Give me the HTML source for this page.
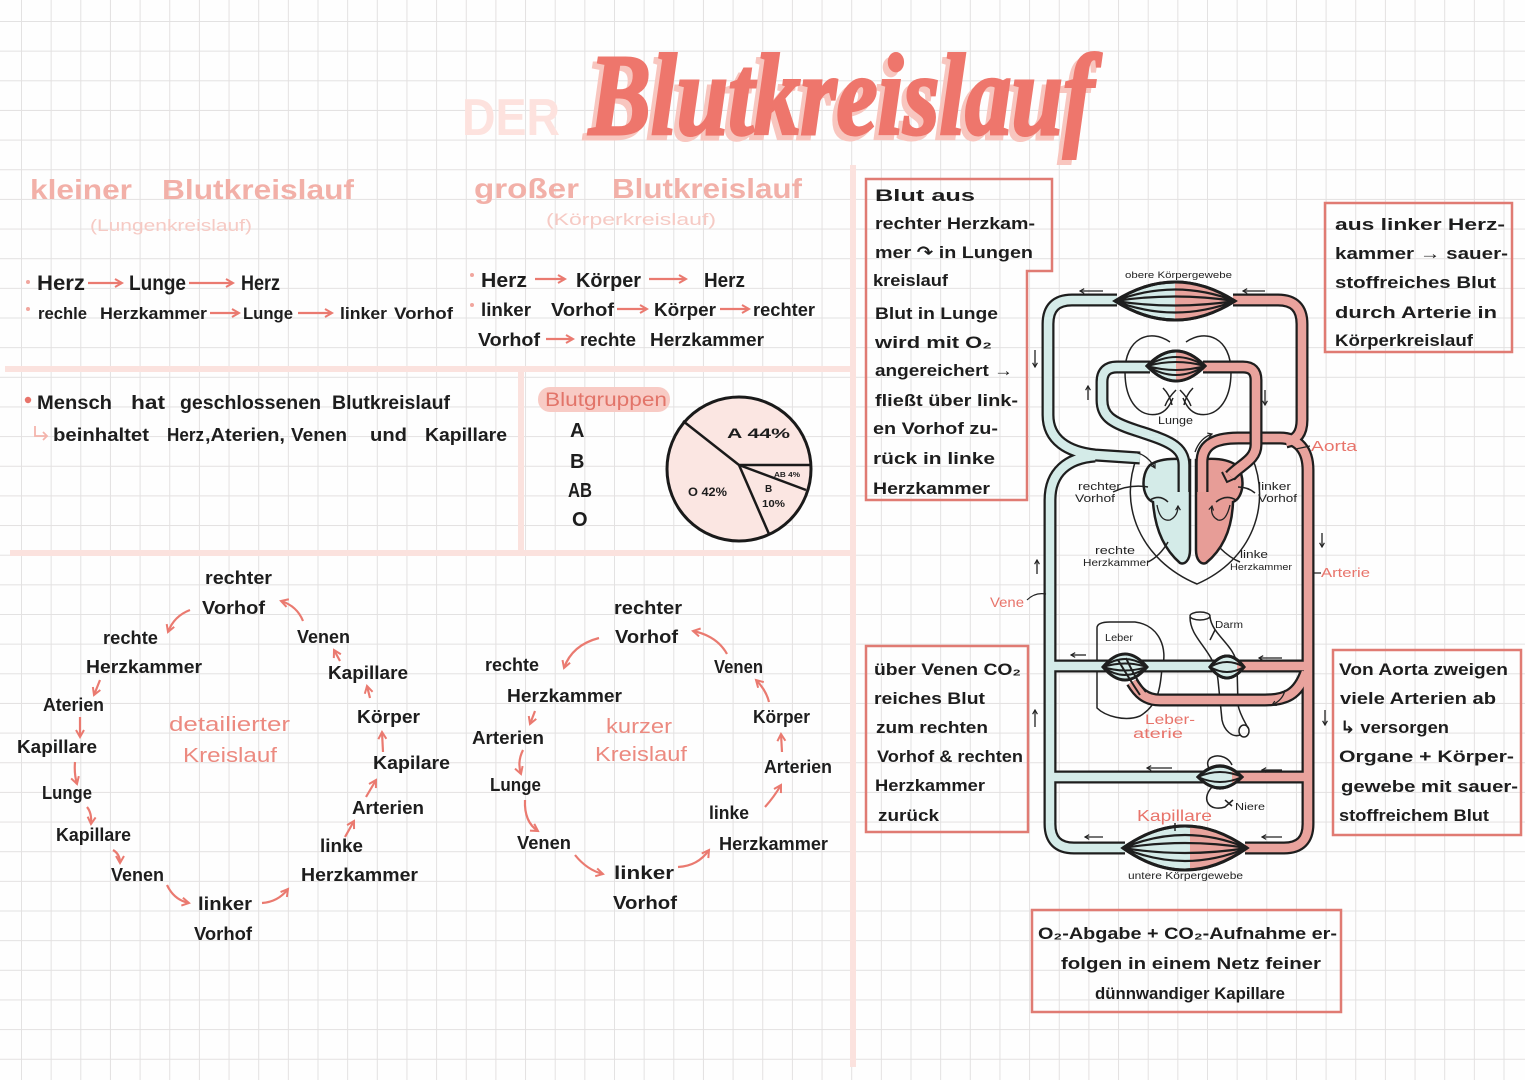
<!DOCTYPE html>
<html><head><meta charset="utf-8"><style>
html,body{margin:0;padding:0;background:#fefefe}
svg{display:block}
text{font-family:"Liberation Sans","DejaVu Sans",sans-serif;font-weight:bold;fill:#1d1d1d}
.h{fill:#f2b0a8;font-size:28px}
.s{fill:#f6cac4;font-size:17px;font-weight:normal}
.p{fill:#ec8a80;font-size:20px;font-weight:normal}
.t21{font-size:21px}.t20{font-size:20px}.t19{font-size:19px}.t18{font-size:18px}.t17{font-size:17px}
.sm{font-size:10px;font-weight:normal;fill:#222}
.sr{fill:#e8746b;font-weight:normal}
.ar{stroke:#ea7a70;stroke-width:2.2;fill:none;marker-end:url(#a)}
.bk{stroke:#222;stroke-width:1.3;fill:none;marker-end:url(#k)}
.box{fill:none;stroke:#e07b73;stroke-width:2.5}
.tb{fill:none;stroke:#1e1e1e;stroke-width:13;stroke-linecap:butt;stroke-linejoin:round}
.fb{fill:none;stroke:#d4ebe8;stroke-width:8.5;stroke-linecap:butt;stroke-linejoin:round}
.fs{fill:none;stroke:#e9a39d;stroke-width:8.5;stroke-linecap:butt;stroke-linejoin:round}
.ol{fill:none;stroke:#222;stroke-width:1.5}
</style></head><body>
<svg width="1525" height="1080" viewBox="0 0 1525 1080" xmlns="http://www.w3.org/2000/svg">
<defs>
<pattern id="g" x="21" y="21" width="29.65" height="29.65" patternUnits="userSpaceOnUse"><path d="M0 0.5H29.65M0.5 0V29.65" stroke="#e3e1e1" stroke-width="1" fill="none"/></pattern>
<marker id="a" viewBox="0 0 10 10" refX="8" refY="5" markerWidth="10" markerHeight="10" markerUnits="userSpaceOnUse" orient="auto"><path d="M1 1L8 5L1 9" fill="none" stroke="#ea7a70" stroke-width="2"/></marker>
<marker id="k" viewBox="0 0 10 10" refX="8" refY="5" markerWidth="6" markerHeight="6" markerUnits="userSpaceOnUse" orient="auto"><path d="M1 1L8 5L1 9" fill="none" stroke="#222" stroke-width="2"/></marker>
<clipPath id="c1"><rect x="1175" y="270" width="80" height="70"/></clipPath>
<clipPath id="c2"><rect x="1176" y="340" width="40" height="50"/></clipPath>
<clipPath id="c4"><rect x="1237" y="650" width="20" height="40"/></clipPath>
<clipPath id="c5"><rect x="1232" y="760" width="20" height="40"/></clipPath>
<clipPath id="c6"><rect x="1190" y="815" width="70" height="70"/></clipPath>
</defs>
<rect width="1525" height="1080" fill="#fefefe"/>
<rect width="1525" height="1080" fill="url(#g)"/>

<!-- dividers -->
<g stroke="#fbe2de" stroke-width="6" fill="none">
<path d="M5 369H856"/><path d="M10 553H856"/><path d="M853 165V1067"/><path d="M521 369V553"/>
</g>

<!-- title -->
<text x="462" y="135" textLength="98" lengthAdjust="spacingAndGlyphs" style="font-size:52px;fill:#fde2de">DER</text>
<text x="584" y="139" textLength="505" lengthAdjust="spacingAndGlyphs" style="font-family:'Liberation Serif',serif;font-style:italic;font-size:115px;fill:#f8c6bf;stroke:#f8c6bf;stroke-width:3">Blutkreislauf</text>
<text x="589" y="134" textLength="505" lengthAdjust="spacingAndGlyphs" style="font-family:'Liberation Serif',serif;font-style:italic;font-size:115px;fill:#ee766c;stroke:#ee766c;stroke-width:3">Blutkreislauf</text>

<!-- headings -->
<text class="h" x="30" y="199" textLength="102" lengthAdjust="spacingAndGlyphs">kleiner</text>
<text class="h" x="162" y="199" textLength="192" lengthAdjust="spacingAndGlyphs">Blutkreislauf</text>
<text class="h" x="474" y="198" textLength="105" lengthAdjust="spacingAndGlyphs">großer</text>
<text class="h" x="612" y="198" textLength="190" lengthAdjust="spacingAndGlyphs">Blutkreislauf</text>
<text class="s" x="90" y="231" textLength="162" lengthAdjust="spacingAndGlyphs">(Lungenkreislauf)</text>
<text class="s" x="546" y="225" textLength="170" lengthAdjust="spacingAndGlyphs">(Körperkreislauf)</text>

<!-- bullets -->
<g fill="#f1a69e"><circle cx="28" cy="282" r="2"/><circle cx="28" cy="309" r="2"/><circle cx="472" cy="275" r="2"/><circle cx="472" cy="305" r="2"/></g>
<circle cx="28" cy="400" r="3.2" fill="#e8746b"/>

<text class="t21" x="37" y="290" textLength="48" lengthAdjust="spacingAndGlyphs">Herz</text>
<text class="t21" x="129" y="290" textLength="57" lengthAdjust="spacingAndGlyphs">Lunge</text>
<text class="t21" x="241" y="290" textLength="39" lengthAdjust="spacingAndGlyphs">Herz</text>
<path class="ar" d="M88 283H122"/><path class="ar" d="M189 283H233"/>

<text class="t17" x="38" y="319" textLength="49" lengthAdjust="spacingAndGlyphs">rechle</text>
<text class="t17" x="100" y="319" textLength="107" lengthAdjust="spacingAndGlyphs">Herzkammer</text>
<text class="t17" x="243" y="319" textLength="50" lengthAdjust="spacingAndGlyphs">Lunge</text>
<text class="t17" x="340" y="319" textLength="47" lengthAdjust="spacingAndGlyphs">linker</text>
<text class="t17" x="394" y="319" textLength="59" lengthAdjust="spacingAndGlyphs">Vorhof</text>
<path class="ar" d="M210 313H239"/><path class="ar" d="M298 313H332"/>

<text class="t20" x="481" y="287" textLength="46" lengthAdjust="spacingAndGlyphs">Herz</text>
<text class="t20" x="576" y="287" textLength="65" lengthAdjust="spacingAndGlyphs">Körper</text>
<text class="t20" x="704" y="287" textLength="41" lengthAdjust="spacingAndGlyphs">Herz</text>
<path class="ar" d="M535 279H565"/><path class="ar" d="M649 279H686"/>
<text class="t18" x="481" y="316" textLength="50" lengthAdjust="spacingAndGlyphs">linker</text>
<text class="t18" x="551" y="316" textLength="63" lengthAdjust="spacingAndGlyphs">Vorhof</text>
<text class="t18" x="654" y="316" textLength="62" lengthAdjust="spacingAndGlyphs">Körper</text>
<text class="t18" x="753" y="316" textLength="62" lengthAdjust="spacingAndGlyphs">rechter</text>
<path class="ar" d="M617 309H647"/><path class="ar" d="M720 309H749"/>
<text class="t18" x="478" y="346" textLength="62" lengthAdjust="spacingAndGlyphs">Vorhof</text>
<text class="t18" x="580" y="346" textLength="56" lengthAdjust="spacingAndGlyphs">rechte</text>
<text class="t18" x="650" y="346" textLength="114" lengthAdjust="spacingAndGlyphs">Herzkammer</text>
<path class="ar" d="M546 339H573"/>

<text class="t19" x="37" y="409" textLength="75" lengthAdjust="spacingAndGlyphs">Mensch</text>
<text class="t19" x="131" y="409" textLength="34" lengthAdjust="spacingAndGlyphs">hat</text>
<text class="t19" x="180" y="409" textLength="141" lengthAdjust="spacingAndGlyphs">geschlossenen</text>
<text class="t19" x="332" y="409" textLength="118" lengthAdjust="spacingAndGlyphs">Blutkreislauf</text>
<path d="M35 426V436H47M43 432L47 436L43 440" fill="none" stroke="#f4b4ac" stroke-width="1.8"/>
<text class="t18" x="53" y="441" textLength="96" lengthAdjust="spacingAndGlyphs">beinhaltet</text>
<text class="t18" x="167" y="441" textLength="37" lengthAdjust="spacingAndGlyphs">Herz</text>
<text class="t18" x="205" y="441" textLength="80" lengthAdjust="spacingAndGlyphs">,Aterien,</text>
<text class="t18" x="291" y="441" textLength="56" lengthAdjust="spacingAndGlyphs">Venen</text>
<text class="t18" x="370" y="441" textLength="37" lengthAdjust="spacingAndGlyphs">und</text>
<text class="t18" x="425" y="441" textLength="82" lengthAdjust="spacingAndGlyphs">Kapillare</text>

<!-- Blutgruppen -->
<rect x="538" y="387" width="132" height="25" rx="12" fill="#f8cbc5"/>
<text x="545" y="406" textLength="122" lengthAdjust="spacingAndGlyphs" style="font-size:19px;fill:#e27469;font-weight:normal">Blutgruppen</text>
<text class="t20" x="570" y="437">A</text>
<text class="t20" x="570" y="468">B</text>
<text class="t20" x="568" y="497" textLength="24" lengthAdjust="spacingAndGlyphs">AB</text>
<text class="t20" x="572" y="526">O</text>
<circle cx="739" cy="469" r="72" fill="#fbe6e2" stroke="#1a1a1a" stroke-width="3"/>
<g stroke="#1a1a1a" stroke-width="2.5" fill="none">
<path d="M683 421L739 465L811 465"/><path d="M739 465L806 490"/><path d="M739 465L769 534"/>
</g>
<text x="727" y="438" textLength="63" lengthAdjust="spacingAndGlyphs" style="font-size:14px">A 44%</text>
<text x="774" y="477" textLength="26" lengthAdjust="spacingAndGlyphs" style="font-size:7px">AB 4%</text>
<text x="765" y="492" style="font-size:10px">B</text>
<text x="762" y="507" textLength="23" lengthAdjust="spacingAndGlyphs" style="font-size:10px">10%</text>
<text x="688" y="496" textLength="39" lengthAdjust="spacingAndGlyphs" style="font-size:12px">O 42%</text>

<!-- detailed cycle -->
<text class="t18" x="205" y="584" textLength="67" lengthAdjust="spacingAndGlyphs">rechter</text>
<text class="t18" x="202" y="614" textLength="63" lengthAdjust="spacingAndGlyphs">Vorhof</text>
<text class="t18" x="103" y="644" textLength="55" lengthAdjust="spacingAndGlyphs">rechte</text>
<text class="t18" x="297" y="643" textLength="53" lengthAdjust="spacingAndGlyphs">Venen</text>
<text class="t18" x="86" y="673" textLength="116" lengthAdjust="spacingAndGlyphs">Herzkammer</text>
<text class="t18" x="328" y="679" textLength="80" lengthAdjust="spacingAndGlyphs">Kapillare</text>
<text class="t18" x="43" y="711" textLength="61" lengthAdjust="spacingAndGlyphs">Aterien</text>
<text class="t18" x="357" y="723" textLength="63" lengthAdjust="spacingAndGlyphs">Körper</text>
<text class="t18" x="17" y="753" textLength="80" lengthAdjust="spacingAndGlyphs">Kapillare</text>
<text class="t18" x="373" y="769" textLength="77" lengthAdjust="spacingAndGlyphs">Kapilare</text>
<text class="t18" x="42" y="799" textLength="50" lengthAdjust="spacingAndGlyphs">Lunge</text>
<text class="t18" x="352" y="814" textLength="72" lengthAdjust="spacingAndGlyphs">Arterien</text>
<text class="t18" x="56" y="841" textLength="75" lengthAdjust="spacingAndGlyphs">Kapillare</text>
<text class="t18" x="320" y="852" textLength="43" lengthAdjust="spacingAndGlyphs">linke</text>
<text class="t18" x="111" y="881" textLength="53" lengthAdjust="spacingAndGlyphs">Venen</text>
<text class="t18" x="301" y="881" textLength="117" lengthAdjust="spacingAndGlyphs">Herzkammer</text>
<text class="t18" x="198" y="910" textLength="54" lengthAdjust="spacingAndGlyphs">linker</text>
<text class="t18" x="194" y="940" textLength="58" lengthAdjust="spacingAndGlyphs">Vorhof</text>
<text class="p" x="169" y="731" textLength="121" lengthAdjust="spacingAndGlyphs">detailierter</text>
<text class="p" x="183" y="762" textLength="94" lengthAdjust="spacingAndGlyphs">Kreislauf</text>
<path class="ar" d="M190 610Q174 616 168 632"/>
<path class="ar" d="M303 621Q297 606 281 601"/>
<path class="ar" d="M340 661L334 650"/>
<path class="ar" d="M100 680L94 695"/>
<path class="ar" d="M370 698L367 686"/>
<path class="ar" d="M80 717L80 737"/>
<path class="ar" d="M383 752L382 732"/>
<path class="ar" d="M75 762Q74 774 77 784"/>
<path class="ar" d="M366 797L376 780"/>
<path class="ar" d="M87 807Q92 813 91 824"/>
<path class="ar" d="M345 837L354 821"/>
<path class="ar" d="M113 850Q120 854 120 863"/>
<path class="ar" d="M167 885Q174 900 189 903"/>
<path class="ar" d="M262 903Q278 902 288 889"/>

<!-- kurzer cycle -->
<text class="t18" x="614" y="614" textLength="68" lengthAdjust="spacingAndGlyphs">rechter</text>
<text class="t18" x="615" y="643" textLength="63" lengthAdjust="spacingAndGlyphs">Vorhof</text>
<text class="t18" x="485" y="671" textLength="54" lengthAdjust="spacingAndGlyphs">rechte</text>
<text class="t18" x="714" y="673" textLength="49" lengthAdjust="spacingAndGlyphs">Venen</text>
<text class="t18" x="507" y="702" textLength="115" lengthAdjust="spacingAndGlyphs">Herzkammer</text>
<text class="t18" x="753" y="723" textLength="57" lengthAdjust="spacingAndGlyphs">Körper</text>
<text class="t18" x="472" y="744" textLength="72" lengthAdjust="spacingAndGlyphs">Arterien</text>
<text class="t18" x="764" y="773" textLength="68" lengthAdjust="spacingAndGlyphs">Arterien</text>
<text class="t18" x="490" y="791" textLength="51" lengthAdjust="spacingAndGlyphs">Lunge</text>
<text class="t18" x="709" y="819" textLength="40" lengthAdjust="spacingAndGlyphs">linke</text>
<text class="t18" x="517" y="849" textLength="54" lengthAdjust="spacingAndGlyphs">Venen</text>
<text class="t18" x="719" y="850" textLength="109" lengthAdjust="spacingAndGlyphs">Herzkammer</text>
<text class="t18" x="614" y="879" textLength="60" lengthAdjust="spacingAndGlyphs">linker</text>
<text class="t18" x="613" y="909" textLength="64" lengthAdjust="spacingAndGlyphs">Vorhof</text>
<text class="p" x="606" y="733" textLength="66" lengthAdjust="spacingAndGlyphs">kurzer</text>
<text class="p" x="595" y="761" textLength="92" lengthAdjust="spacingAndGlyphs">Kreislauf</text>
<path class="ar" d="M599 638Q572 645 564 668"/>
<path class="ar" d="M727 654Q717 636 693 631"/>
<path class="ar" d="M535 711L530 724"/>
<path class="ar" d="M769 702Q766 690 756 680"/>
<path class="ar" d="M523 750Q517 762 521 774"/>
<path class="ar" d="M782 752L781 734"/>
<path class="ar" d="M525 800Q524 822 538 831"/>
<path class="ar" d="M765 807Q774 797 781 785"/>
<path class="ar" d="M575 855Q587 870 603 874"/>
<path class="ar" d="M678 867Q698 866 709 850"/>

<!-- boxes -->
<path class="box" d="M866 179H1052V271H1027V500H866Z"/>
<rect class="box" x="1325" y="203" width="187" height="149"/>
<rect class="box" x="866" y="646" width="162" height="186"/>
<rect class="box" x="1333" y="650" width="188" height="185"/>
<rect class="box" x="1032" y="910" width="309" height="102"/>

<text class="t17" x="875" y="201" textLength="100" lengthAdjust="spacingAndGlyphs">Blut aus</text>
<text class="t17" x="875" y="229" textLength="160" lengthAdjust="spacingAndGlyphs">rechter Herzkam-</text>
<text class="t17" x="875" y="258" textLength="158" lengthAdjust="spacingAndGlyphs">mer ↷ in Lungen</text>
<text class="t17" x="873" y="286" textLength="75" lengthAdjust="spacingAndGlyphs">kreislauf</text>
<text class="t17" x="875" y="319" textLength="123" lengthAdjust="spacingAndGlyphs">Blut in Lunge</text>
<text class="t17" x="875" y="348" textLength="117" lengthAdjust="spacingAndGlyphs">wird mit O₂</text>
<text class="t17" x="875" y="376" textLength="138" lengthAdjust="spacingAndGlyphs">angereichert →</text>
<text class="t17" x="875" y="406" textLength="143" lengthAdjust="spacingAndGlyphs">fließt über link-</text>
<text class="t17" x="873" y="434" textLength="125" lengthAdjust="spacingAndGlyphs">en Vorhof zu-</text>
<text class="t17" x="873" y="464" textLength="122" lengthAdjust="spacingAndGlyphs">rück in linke</text>
<text class="t17" x="873" y="494" textLength="117" lengthAdjust="spacingAndGlyphs">Herzkammer</text>

<text class="t17" x="1335" y="230" textLength="170" lengthAdjust="spacingAndGlyphs">aus linker Herz-</text>
<text class="t17" x="1335" y="259" textLength="173" lengthAdjust="spacingAndGlyphs">kammer → sauer-</text>
<text class="t17" x="1335" y="288" textLength="161" lengthAdjust="spacingAndGlyphs">stoffreiches Blut</text>
<text class="t17" x="1335" y="318" textLength="162" lengthAdjust="spacingAndGlyphs">durch Arterie in</text>
<text class="t17" x="1335" y="346" textLength="138" lengthAdjust="spacingAndGlyphs">Körperkreislauf</text>

<text class="t17" x="874" y="675" textLength="147" lengthAdjust="spacingAndGlyphs">über Venen CO₂</text>
<text class="t17" x="874" y="704" textLength="111" lengthAdjust="spacingAndGlyphs">reiches Blut</text>
<text class="t17" x="876" y="733" textLength="112" lengthAdjust="spacingAndGlyphs">zum rechten</text>
<text class="t17" x="877" y="762" textLength="146" lengthAdjust="spacingAndGlyphs">Vorhof &amp; rechten</text>
<text class="t17" x="875" y="791" textLength="110" lengthAdjust="spacingAndGlyphs">Herzkammer</text>
<text class="t17" x="878" y="821" textLength="61" lengthAdjust="spacingAndGlyphs">zurück</text>

<text class="t17" x="1339" y="675" textLength="169" lengthAdjust="spacingAndGlyphs">Von Aorta zweigen</text>
<text class="t17" x="1340" y="704" textLength="156" lengthAdjust="spacingAndGlyphs">viele Arterien ab</text>
<text class="t17" x="1340" y="733" textLength="109" lengthAdjust="spacingAndGlyphs">↳ versorgen</text>
<text class="t17" x="1339" y="762" textLength="175" lengthAdjust="spacingAndGlyphs">Organe + Körper-</text>
<text class="t17" x="1341" y="792" textLength="177" lengthAdjust="spacingAndGlyphs">gewebe mit sauer-</text>
<text class="t17" x="1339" y="821" textLength="150" lengthAdjust="spacingAndGlyphs">stoffreichem Blut</text>

<text class="t17" x="1038" y="939" textLength="299" lengthAdjust="spacingAndGlyphs">O₂-Abgabe + CO₂-Aufnahme er-</text>
<text class="t17" x="1061" y="969" textLength="260" lengthAdjust="spacingAndGlyphs">folgen in einem Netz feiner</text>
<text class="t17" x="1095" y="999" textLength="190" lengthAdjust="spacingAndGlyphs">dünnwandiger Kapillare</text>

<!-- ===== circulation diagram ===== -->
<path class="ol" d="M1170 342C1150 328 1125 338 1125 372C1125 402 1140 418 1158 414C1166 412 1170 405 1173 398"/>
<path class="ol" d="M1186 342C1206 328 1231 338 1231 372C1231 402 1216 418 1198 414C1190 412 1186 405 1183 398"/>
<path class="ol" d="M1163 388Q1170 395 1172 405M1176 390Q1168 398 1165 406M1193 388Q1186 395 1184 405M1180 390Q1188 398 1191 406"/>
<path class="ol" d="M1097 628Q1097 622 1110 622L1135 622C1160 625 1168 650 1162 668C1160 690 1158 705 1140 716C1125 722 1105 716 1097 708Z"/>
<path class="ol" d="M1190 617C1190 640 1215 650 1218 680L1222 720C1224 730 1232 738 1240 735M1210 617C1212 635 1235 645 1237 665L1238 705C1240 715 1245 722 1248 728"/>
<ellipse class="ol" cx="1200" cy="616" rx="10" ry="4"/>
<ellipse class="ol" cx="1244" cy="731" rx="5" ry="6"/>
<path class="ol" d="M1210 770C1200 755 1225 750 1232 765M1212 787C1200 800 1210 812 1225 807L1233 800"/>
<path class="ol" d="M1137 457C1118 505 1140 560 1197 584C1252 560 1272 505 1252 457"/>

<!-- heart chambers -->
<path d="M1190 460L1190 550C1190 560 1185 565 1180 563C1165 550 1155 530 1153 502C1142 498 1140 475 1150 465C1160 458 1175 458 1190 460Z" fill="#d4ebe8" stroke="#1e1e1e" stroke-width="2.5"/>
<path d="M1196 460L1196 550C1196 560 1201 565 1206 563C1222 550 1232 530 1233 502C1244 498 1246 475 1236 465C1226 458 1210 458 1196 460Z" fill="#e79d97" stroke="#1e1e1e" stroke-width="2.5"/>

<!-- tubes outlines -->
<g class="tb">
<path d="M1117 300L1072 300Q1048 300 1048 324L1048 415C1048 440 1068 452 1095 455L1140 458"/>
<path d="M1125 848L1074 848Q1050 848 1050 824L1050 500C1050 472 1068 458 1095 456"/>
<path d="M1233 300L1278 300Q1302 300 1302 324L1302 420C1302 434 1296 440 1286 442"/>
<path d="M1202 492L1202 462C1202 444 1216 438 1238 438L1280 438C1298 438 1308 450 1308 470L1308 824Q1308 848 1284 848L1245 848"/>
<path d="M1184 492L1184 465C1184 445 1165 440 1135 430C1110 422 1102 415 1102 400L1102 382Q1102 367 1117 367L1150 367"/>
<path d="M1050 666L1308 666"/>
<path d="M1306 672C1298 695 1285 700 1265 700L1160 700C1145 700 1138 692 1132 682"/>
<path d="M1050 777L1308 777"/>
</g>
<g class="fb">
<path d="M1117 300L1072 300Q1048 300 1048 324L1048 415C1048 440 1068 452 1095 455L1140 458"/>
<path d="M1125 848L1074 848Q1050 848 1050 824L1050 500C1050 472 1068 458 1095 456"/>
<path d="M1184 492L1184 465C1184 445 1165 440 1135 430C1110 422 1102 415 1102 400L1102 382Q1102 367 1117 367L1150 367"/>
<path d="M1050 666L1236 666"/>
<path d="M1050 777L1232 777"/>
</g>
<g class="fs">
<path d="M1233 300L1278 300Q1302 300 1302 324L1302 420C1302 434 1296 440 1286 442"/>
<path d="M1202 492L1202 462C1202 444 1216 438 1238 438L1280 438C1298 438 1308 450 1308 470L1308 824Q1308 848 1284 848L1245 848"/>
<path d="M1236 666L1308 666"/>
<path d="M1306 672C1298 695 1285 700 1265 700L1160 700C1145 700 1138 692 1132 682"/>
<path d="M1232 777L1308 777"/>
</g>
<path class="tb" d="M1203 367L1243 367Q1256 367 1256 380L1256 445C1256 460 1240 465 1230 476"/>
<path class="fs" d="M1203 367L1243 367Q1256 367 1256 380L1256 445C1256 460 1240 465 1230 476"/>
<path d="M1222 472L1227 482L1236 478" fill="none" stroke="#1e1e1e" stroke-width="2"/>

<!-- spindles -->
<g stroke="#1e1e1e">
<path d="M1115 301Q1175 263 1235 301Q1175 339 1115 301Z" fill="#d4ebe8" stroke-width="3"/>
<path d="M1115 301Q1175 263 1235 301Q1175 339 1115 301Z" fill="#e9a39d" stroke="none" clip-path="url(#c1)"/>
<path d="M1115 301Q1175 263 1235 301Q1175 339 1115 301Z" fill="none" stroke-width="3"/>
<path d="M1115 301Q1175 278 1235 301M1115 301Q1175 292 1235 301M1115 301Q1175 310 1235 301M1115 301Q1175 324 1235 301" fill="none" stroke-width="2.2"/>

<path d="M1147 366Q1176 336 1205 366Q1176 396 1147 366Z" fill="#d4ebe8" stroke-width="3"/>
<path d="M1147 366Q1176 336 1205 366Q1176 396 1147 366Z" fill="#e9a39d" stroke="none" clip-path="url(#c2)"/>
<path d="M1147 366Q1176 336 1205 366Q1176 396 1147 366Z" fill="none" stroke-width="3"/>
<path d="M1147 366Q1176 348 1205 366M1147 366Q1176 358 1205 366M1147 366Q1176 374 1205 366M1147 366Q1176 384 1205 366" fill="none" stroke-width="2"/>

<path d="M1103 667Q1125 641 1147 667Q1125 693 1103 667Z" fill="#d4ebe8" stroke-width="3"/>
<path d="M1103 667Q1125 651 1147 667M1103 667Q1125 660 1147 667M1103 667Q1125 674 1147 667M1103 667Q1125 683 1147 667M1118 660Q1130 680 1140 695M1126 658Q1136 680 1146 692" fill="none" stroke-width="2"/>

<path d="M1210 667Q1227 645 1244 667Q1227 689 1210 667Z" fill="#d4ebe8" stroke-width="3"/>
<path d="M1210 667Q1227 645 1244 667Q1227 689 1210 667Z" fill="#e9a39d" stroke="none" clip-path="url(#c4)"/>
<path d="M1210 667Q1227 645 1244 667Q1227 689 1210 667Z" fill="none" stroke-width="3"/>
<path d="M1210 667Q1227 657 1244 667M1210 667Q1227 677 1244 667" fill="none" stroke-width="2"/>

<path d="M1198 777Q1220 755 1242 777Q1220 799 1198 777Z" fill="#d4ebe8" stroke-width="3"/>
<path d="M1198 777Q1220 755 1242 777Q1220 799 1198 777Z" fill="#e9a39d" stroke="none" clip-path="url(#c5)"/>
<path d="M1198 777Q1220 755 1242 777Q1220 799 1198 777Z" fill="none" stroke-width="3"/>
<path d="M1198 777Q1220 767 1242 777M1198 777Q1220 787 1242 777" fill="none" stroke-width="2"/>

<path d="M1123 848Q1185 804 1247 848Q1185 892 1123 848Z" fill="#d4ebe8" stroke-width="3"/>
<path d="M1123 848Q1185 804 1247 848Q1185 892 1123 848Z" fill="#e9a39d" stroke="none" clip-path="url(#c6)"/>
<path d="M1123 848Q1185 804 1247 848Q1185 892 1123 848Z" fill="none" stroke-width="3"/>
<path d="M1123 848Q1185 822 1247 848M1123 848Q1185 838 1247 848M1123 848Q1185 858 1247 848M1123 848Q1185 874 1247 848" fill="none" stroke-width="2.2"/>
</g>

<!-- heart details -->
<path class="bk" d="M1157 505Q1160 522 1170 520Q1178 516 1178 506"/>
<path class="bk" d="M1230 505Q1226 522 1218 520Q1210 516 1212 506"/>
<path class="ol" d="M1150 500Q1160 494 1168 502M1216 502Q1226 494 1236 500"/>
<path class="bk" d="M1130 452Q1146 452 1155 468"/>
<path class="bk" d="M1195 452Q1200 438 1212 434"/>
<path class="bk" d="M1285 690Q1283 700 1272 705"/>

<!-- small black arrows -->
<path class="bk" d="M1103 291H1080"/><path class="bk" d="M1265 291H1243"/>
<path class="bk" d="M1035 350V367"/><path class="bk" d="M1088 400V386"/><path class="bk" d="M1265 390V405"/>
<path class="bk" d="M1322 533V547"/><path class="bk" d="M1037 574V560"/>
<path class="bk" d="M1086 655H1071"/><path class="bk" d="M1282 658H1259"/>
<path class="bk" d="M1035 727V710"/><path class="bk" d="M1325 710V725"/>
<path class="bk" d="M1172 768H1147"/><path class="bk" d="M1282 770H1262"/>
<path class="bk" d="M1103 837H1085"/><path class="bk" d="M1282 837H1262"/>

<!-- leaders -->
<path class="ol" d="M1113 492Q1130 484 1148 487M1255 493Q1248 487 1238 487M1148 562Q1160 556 1168 542M1240 562Q1230 558 1220 548"/>
<path class="ol" d="M1215 630L1210 640M1232 806L1225 800M1175 823V831"/>
<path d="M1027 600Q1035 592 1046 594" fill="none" stroke="#222" stroke-width="1.2"/>
<path d="M1296 449L1310 446M1313 573H1321" fill="none" stroke="#222" stroke-width="1.2"/>

<!-- diagram labels -->
<text class="sm" x="1125" y="278" textLength="107" lengthAdjust="spacingAndGlyphs" style="font-size:9px">obere Körpergewebe</text>
<text class="sm" x="1158" y="424" textLength="35" lengthAdjust="spacingAndGlyphs" style="font-size:11px">Lunge</text>
<text class="sm" x="1078" y="490" textLength="43" lengthAdjust="spacingAndGlyphs" style="font-size:11px">rechter</text>
<text class="sm" x="1075" y="502" textLength="40" lengthAdjust="spacingAndGlyphs" style="font-size:11px">Vorhof</text>
<text class="sm" x="1258" y="490" textLength="33" lengthAdjust="spacingAndGlyphs" style="font-size:11px">linker</text>
<text class="sm" x="1258" y="502" textLength="39" lengthAdjust="spacingAndGlyphs" style="font-size:11px">Vorhof</text>
<text class="sm" x="1095" y="554" textLength="40" lengthAdjust="spacingAndGlyphs" style="font-size:11px">rechte</text>
<text class="sm" x="1083" y="566" textLength="67" lengthAdjust="spacingAndGlyphs">Herzkammer</text>
<text class="sm" x="1240" y="558" textLength="28" lengthAdjust="spacingAndGlyphs" style="font-size:11px">linke</text>
<text class="sm" x="1230" y="570" textLength="62" lengthAdjust="spacingAndGlyphs" style="font-size:9px">Herzkammer</text>
<text class="sm" x="1105" y="641" textLength="28" lengthAdjust="spacingAndGlyphs">Leber</text>
<text class="sm" x="1215" y="628" textLength="28" lengthAdjust="spacingAndGlyphs">Darm</text>
<text class="sm" x="1235" y="810" textLength="30" lengthAdjust="spacingAndGlyphs">Niere</text>
<text class="sm" x="1128" y="879" textLength="115" lengthAdjust="spacingAndGlyphs">untere Körpergewebe</text>
<text class="sr" x="1311" y="451" textLength="46" lengthAdjust="spacingAndGlyphs" style="font-size:15px">Aorta</text>
<text class="sr" x="1321" y="577" textLength="49" lengthAdjust="spacingAndGlyphs" style="font-size:13px">Arterie</text>
<text class="sr" x="990" y="607" textLength="34" lengthAdjust="spacingAndGlyphs" style="font-size:14px">Vene</text>
<text class="sr" x="1137" y="821" textLength="75" lengthAdjust="spacingAndGlyphs" style="font-size:16px">Kapillare</text>
<text class="sr" x="1145" y="724" textLength="50" lengthAdjust="spacingAndGlyphs" style="font-size:14px">Leber-</text>
<text class="sr" x="1133" y="738" textLength="50" lengthAdjust="spacingAndGlyphs" style="font-size:14px">aterie</text>
</svg>
</body></html>
